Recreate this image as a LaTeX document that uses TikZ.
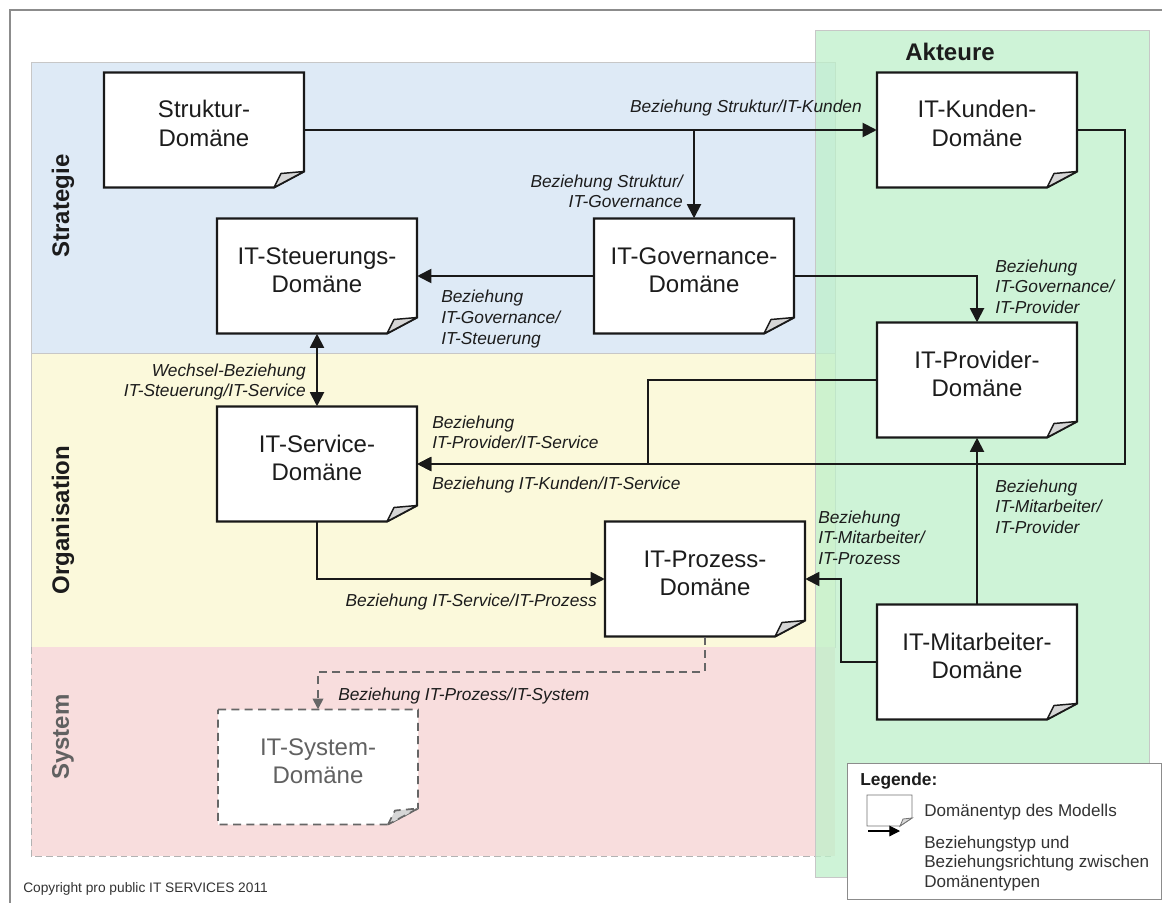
\documentclass[tikz,border=0pt]{standalone}
\usepackage{fontspec}
\setmainfont{Liberation Sans}
\usetikzlibrary{arrows.meta,calc}

\definecolor{bandblue}{RGB}{222,234,246}
\definecolor{bandyellow}{RGB}{251,249,219}
\definecolor{bandpink}{RGB}{248,221,221}
\definecolor{actgreen}{RGB}{190,240,202}
\definecolor{txt}{RGB}{28,28,28}

% two centred lines inside a domain box, first baseline a bit above the middle
\newcommand\twoline[2]{\raisebox{9pt}[0pt][0pt]{\begin{tabular}[t]{@{}c@{}}#1\\#2\end{tabular}}}

% domain box with folded lower right corner: [shape opts]{name}{x}{y}{text opts}{text}
\newcommand\docbox[6][]{%
  \path[docline,#1] ({#3-100},{#4-57.5}) -- ({#3+100},{#4-57.5}) -- ({#3+100},{#4+41.5})
     -- ({#3+70},{#4+57.5}) -- ({#3-100},{#4+57.5}) -- cycle;
  \path[foldline,#1,fill=black!16] ({#3+70},{#4+57.5}) -- ({#3+77},{#4+43.5}) -- ({#3+100},{#4+41.5}) -- cycle;
  \node[doctext,#5] (#2) at (#3,#4) {#6};
}

\begin{document}
\begin{tikzpicture}[x=0.75pt,y=-0.75pt,
  docline/.style={draw=black!90, line width=1.6pt, fill=white, line join=miter},
  foldline/.style={draw=black!90, line width=1.1pt, line join=round},
  ghost/.style={draw=black!60, line width=1.3pt, dash pattern=on 6pt off 4pt},
  doctext/.style={minimum width=150pt, minimum height=86.25pt, inner sep=0pt,
    font=\fontsize{18}{21.5}\selectfont, text=txt},
  lbl/.style={inner sep=0pt, font=\fontsize{13}{15.5}\selectfont\itshape, text=txt},
  conn/.style={line width=1.4pt, draw=black!90, -{Triangle[length=10.5pt,width=10.5pt]}},
  dconn/.style={line width=1.3pt, draw=black!60, dash pattern=on 6pt off 4pt,
    -{Triangle[length=8pt,width=8pt]}},
  band/.style={draw=black!22, line width=0.7pt},
  lane/.style={rotate=90, inner sep=0pt, font=\fontsize{18}{21.5}\selectfont\bfseries, text=txt},
  legtext/.style={inner sep=0pt, font=\fontsize{12.8}{14.7}\selectfont, text=black!80}]

\useasboundingbox[fill=white] (0,0) rectangle (1162,902);

% outer frame
\draw[black!45, line width=1.4pt] (10,905) -- (10,10) -- (1165,10);

% layers
\path[band, fill=bandblue] (31,62) rectangle (835,353);
\path[band, fill=bandyellow] (31,353) rectangle (835,647);
\path[fill=bandpink] (31,647) rectangle (835,856);
\draw[black!30, line width=0.7pt, dash pattern=on 5pt off 3pt] (31,647) -- (31,856) -- (835,856);

% actors column
\path[draw=black!22, line width=0.7pt, fill=actgreen, fill opacity=0.75] (815,30) rectangle (1149,877);

\node[lane] (strat) at (63,206) {Strategie};
\node[lane] (orga) at (63,520) {Organisation};
\node[lane, text=black!62] (syst) at (63,737) {System};
\node[inner sep=0pt, font=\fontsize{18}{21.5}\selectfont\bfseries, text=txt] (akt) at (950,52) {Akteure};

% domain boxes
\docbox{struk}{204}{130}{}{\twoline{Struktur-}{Domäne}}
\docbox{kunden}{977}{130}{}{\twoline{IT-Kunden-}{Domäne}}
\docbox{steuer}{317}{276}{}{\twoline{IT-Steuerungs-}{Domäne}}
\docbox{gov}{694}{276}{}{\twoline{IT-Governance-}{Domäne}}
\docbox{prov}{977}{380}{}{\twoline{IT-Provider-}{Domäne}}
\docbox{serv}{317}{464}{}{\twoline{IT-Service-}{Domäne}}
\docbox{proz}{705}{579}{}{\twoline{IT-Prozess-}{Domäne}}
\docbox{mitar}{977}{662}{}{\twoline{IT-Mitarbeiter-}{Domäne}}
\docbox[ghost]{sys}{318}{767}{text=black!62}{\twoline{IT-System-}{Domäne}}

% bend points
\coordinate (pvbend) at (648,380);
\coordinate (kdbend) at (1125,130);
\coordinate (mabend) at (841,662);
\coordinate (pzbend) at (705,672);

% relations
\draw[conn] (struk.east) -- (kunden.west);
\draw[conn] (gov.north |- struk.east) -- (gov.north);
\draw[conn] (gov.west) -- (steuer.east);
\draw[conn] (gov.east) -| (prov.north);
\draw[conn, {Triangle[length=10.5pt,width=10.5pt]}-{Triangle[length=10.5pt,width=10.5pt]}]
  (steuer.south) -- (serv.north);
\draw[conn] (kunden.east) -- (kdbend) |- (serv.east);
\draw[conn] (prov.west) -- (pvbend) |- (serv.east);
\draw[conn] (serv.south) |- (proz.west);
\draw[conn] (mitar.west) -- (mabend) |- (proz.east);
\draw[conn] (mitar.north) -- (prov.south);
\draw[dconn] (proz.south) -- (pzbend) -| (sys.north);

% relation labels
\node[lbl, anchor=base east] (l1) at (862,113) {Beziehung Struktur/IT-Kunden};
\node[lbl, anchor=north east, align=right] (l2) at (683,174.5) {Beziehung Struktur/\\IT-Governance};
\node[lbl, anchor=north west, align=left] (l3) at (441,290) {Beziehung\\IT-Governance/\\IT-Steuerung};
\node[lbl, anchor=north west, align=left] (l4) at (995,259.5) {Beziehung\\IT-Governance/\\IT-Provider};
\node[lbl, anchor=north east, align=right] (l5) at (306,363.5) {Wechsel-Beziehung\\IT-Steuerung/IT-Service};
\node[lbl, anchor=north west, align=left] (l6) at (432,415.5) {Beziehung\\IT-Provider/IT-Service};
\node[lbl, anchor=base west] (l7) at (432,489) {Beziehung IT-Kunden/IT-Service};
\node[lbl, anchor=base east] (l8) at (597,606) {Beziehung IT-Service/IT-Prozess};
\node[lbl, anchor=north west, align=left] (l9) at (818,510.5) {Beziehung\\IT-Mitarbeiter/\\IT-Prozess};
\node[lbl, anchor=north west, align=left] (l10) at (995,479.5) {Beziehung\\IT-Mitarbeiter/\\IT-Provider};
\node[lbl, anchor=base west] (l11) at (338,700) {Beziehung IT-Prozess/IT-System};

% legend
\node[draw=black!45, fill=white, line width=0.8pt, anchor=north west, inner sep=0pt,
  minimum width=235.5pt, minimum height=102pt] (legend) at (847,763) {};
\node[inner sep=0pt, anchor=base west, font=\fontsize{13}{15}\selectfont\bfseries, text=txt] (legt) at (860,785) {Legende:};
\path[draw=black!55, line width=0.7pt, fill=white] (867,795) -- (912,795) -- (912,818) -- (900,826) -- (867,826) -- cycle;
\path[draw=black!55, line width=0.6pt, fill=black!15] (900,826) -- (903,819) -- (912,818) -- cycle;
\node[legtext, anchor=base west] (leg1) at (924,816) {Domänentyp des Modells};
\coordinate (la1) at (868,831);
\coordinate (la2) at (900,831);
\draw[line width=0.8pt, -{Triangle[length=8pt,width=8pt]}] (la1) -- (la2);
\node[legtext, anchor=north west, align=left] (leg2) at (924,835.7) {Beziehungstyp und\\Beziehungsrichtung zwischen\\Domänentypen};

% copyright
\node[inner sep=0pt, anchor=base west, font=\fontsize{10.3}{12}\selectfont, text=black!80] (copy) at (23,892) {Copyright pro public IT SERVICES 2011};
\end{tikzpicture}
\end{document}
